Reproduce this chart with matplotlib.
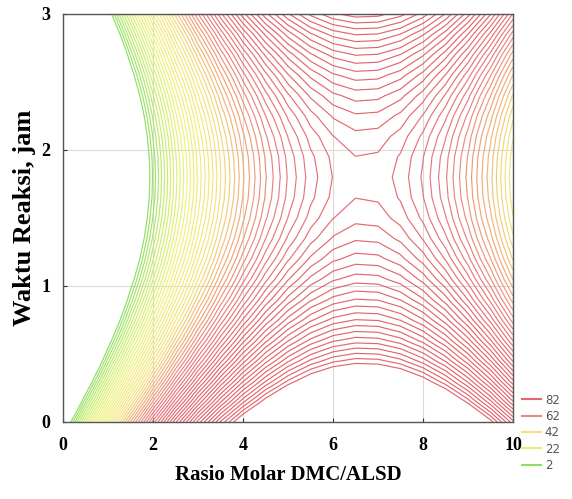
import numpy as np
import matplotlib.pyplot as plt
from matplotlib.colors import LinearSegmentedColormap, Normalize
from matplotlib.lines import Line2D

# response surface (saddle shape)
x_saddle, y_saddle = 6.67, 1.80   # Rasio Molar, Waktu at the saddle
f_saddle = 77.6                   # value at saddle
curv_x = 3.36                     # falls off along Rasio Molar
curv_y = 20.5                     # rises along Waktu Reaksi

levels = np.arange(2, 118, 2)
legend_levels = [82, 62, 42, 22, 2]
xticks = [0, 2, 4, 6, 8, 10]
yticks = [0, 1, 2, 3]

x = np.linspace(0, 10, 21)
y = np.linspace(0, 3, 21)
X, Y = np.meshgrid(x, y)
Z = f_saddle - curv_x * (X - x_saddle) ** 2 + curv_y * (Y - y_saddle) ** 2

cmap = LinearSegmentedColormap.from_list('gyr', [
    (0.0, '#8ede66'), (0.12, '#c6ec6e'), (0.3, '#eef27a'), (0.52, '#f4e27c'),
    (0.66, '#f0a878'), (0.8, '#e97c82'), (1.0, '#e2666f')])
norm = Normalize(vmin=2, vmax=82, clip=True)

fig = plt.figure(figsize=(5.72, 4.99), dpi=100)
ax = fig.add_axes([63 / 572, 1 - 422 / 499, 450 / 572, 408 / 499])

ax.grid(True, color='#dadada', linewidth=0.8, zorder=0)
ax.contour(X, Y, Z, levels=levels, cmap=cmap, norm=norm, linewidths=0.85, zorder=2)

ax.set_xlim(0, 10)
ax.set_ylim(0, 3)
ax.set_xticks(xticks)
ax.set_yticks(yticks)
ax.tick_params(axis='x', direction='in', length=3, width=0.8, color='#333333', pad=11)
ax.tick_params(axis='y', direction='in', length=3, width=0.8, color='#333333', pad=9)
for lab in ax.get_xticklabels() + ax.get_yticklabels():
    lab.set_family('Liberation Serif')
    lab.set_fontweight('bold')
    lab.set_fontsize(13)
for sp in ax.spines.values():
    sp.set_color('#555555')
    sp.set_linewidth(1.0)

ax.set_xlabel('Rasio Molar DMC/ALSD', family='Liberation Serif', fontweight='bold',
              fontsize=15, labelpad=8)
ax.set_ylabel('Waktu Reaksi, jam', family='Liberation Serif', fontweight='bold',
              fontsize=19, labelpad=4)

handles = [Line2D([0], [0], color=cmap(norm(l)), lw=1.5) for l in legend_levels]
fig.legend(handles, [str(l) for l in legend_levels], loc='lower left',
           bbox_to_anchor=(0.905, 0.045), frameon=False, fontsize=8.5,
           labelcolor='#555555', handlelength=1.6, handletextpad=0.3,
           labelspacing=0.28, borderaxespad=0)

fig.savefig('out.png', dpi=100)
